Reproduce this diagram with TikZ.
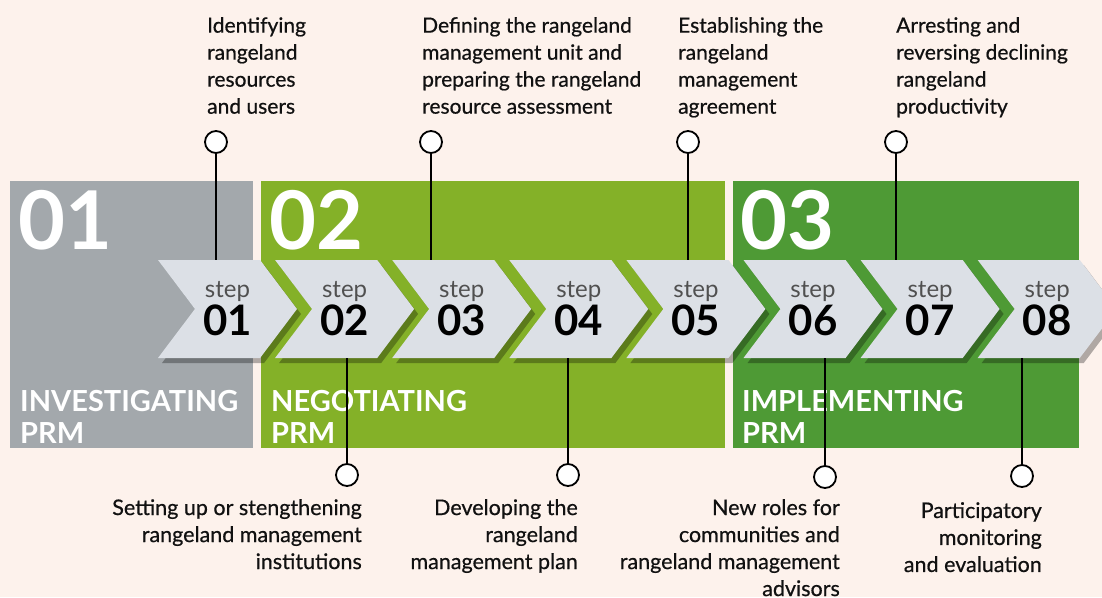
\documentclass[tikz,border=0pt]{standalone}
\usepackage{fontspec}
\setmainfont{Lato}
\newfontfamily\labelfont{Lato}[FakeBold=0.6]
\usetikzlibrary{shapes.symbols,shadows,positioning}
\definecolor{bgCream}{HTML}{FDF2EC}
\definecolor{greyPanel}{HTML}{A3A8AC}
\definecolor{greenPanel}{HTML}{84B128}
\definecolor{darkPanel}{HTML}{4E9A35}
\definecolor{chevGrey}{HTML}{DCE0E6}
\definecolor{stepGrey}{HTML}{505050}
\definecolor{labelInk}{HTML}{111111}

\begin{document}
\begin{tikzpicture}
[x=1pt,y=-1pt,
  panelDecorate/.style={shape=rectangle,inner sep=0pt,anchor=north west,minimum height=267pt},
  bigDecorate/.style={anchor=base west,inner sep=0pt,text=white,font=\fontsize{81}{81}\selectfont\bfseries},
  titleDecorate/.style={anchor=north west,inner sep=0pt,text=white,align=left,font=\fontsize{29}{32}\selectfont\bfseries},
  chevronDecorate/.style={shape=signal,signal to=east,signal from=west,signal pointer angle=106,
    fill=chevGrey,minimum width=139pt,minimum height=98pt,inner sep=0pt,align=center,
    drop shadow={shadow xshift=4pt,shadow yshift=-5pt,opacity=0.3,fill=black}},
  lineDecorate/.style={-,line width=1.2pt,draw=black},
  nodeDecorate/.style={shape=circle,inner sep=0pt,minimum size=22pt,draw,line width=1.8pt,fill=white},
  topLabel/.style={anchor=north west,inner sep=0pt,align=left,text=labelInk,font=\labelfont\fontsize{21}{27}\selectfont},
  bottomLabel/.style={anchor=north east,inner sep=0pt,align=right,text=labelInk,font=\labelfont\fontsize{21.5}{27}\selectfont}]
%% background
\fill[bgCream] (0,0) rectangle (1102,597);
\useasboundingbox (0,0) rectangle (1102,597);
%% phase panels
\node (p1) at (10,181) [panelDecorate,fill=greyPanel,minimum width=243pt] {};
\node (p2) at (261,181) [panelDecorate,fill=greenPanel,minimum width=464pt] {};
\node (p3) at (733,181) [panelDecorate,fill=darkPanel,minimum width=346pt] {};
\foreach \nodename/\x/\num/\title in {
  1/18/01/INVESTIGATING, 2/269/02/NEGOTIATING, 3/740/03/IMPLEMENTING}
{
  \node (n\nodename) at (\x,249) [bigDecorate] {\num};
  \node (t\nodename) at (\x+2,390) [titleDecorate] {\title\\PRM};
}
%% steps
\foreach \nodename/\x in {
  1/227.5, 2/344.6, 3/461.7, 4/578.8, 5/695.9, 6/813, 7/930.1, 8/1047.2}
{
  \node (s\nodename) at (\x,309) [chevronDecorate]
    {{\fontsize{24}{24}\selectfont\color{stepGrey}step}\\[2pt]{\fontsize{42}{42}\selectfont\bfseries 0\nodename}};
}
%% circles and lines
\foreach \nodename/\x/\y in {
  1/216/142, 3/431/142, 5/688/142, 7/896/142}
{
  \node (c\nodename) at (\x,\y) [nodeDecorate] {};
  \draw[lineDecorate] (c\nodename) -- (c\nodename |- s\nodename.north);
}
\foreach \nodename/\x/\y in {
  2/347/475, 4/568/475, 6/825/477, 8/1022/476}
{
  \node (c\nodename) at (\x,\y) [nodeDecorate] {};
  \draw[lineDecorate] (c\nodename) -- (c\nodename |- s\nodename.south);
}
%% labels
\node (l1) at (207,17) [topLabel] {Identifying\\rangeland\\resources\\and users};
\node (l3) at (422,17) [topLabel] {Defining the rangeland\\management unit and\\preparing the rangeland\\resource assessment};
\node (l5) at (678,17) [topLabel] {Establishing the\\rangeland\\management\\agreement};
\node (l7) at (896,17) [topLabel] {Arresting and\\reversing declining\\rangeland\\productivity};
\node (l2) at (362,499) [bottomLabel] {Setting up or stengthening\\rangeland management\\institutions};
\node (l4) at (578,499) [bottomLabel] {Developing the\\rangeland\\management plan};
\node (l6) at (840,499) [bottomLabel] {New roles for\\communities and\\rangeland management\\advisors};
\node (l8) at (1042,502) [bottomLabel] {Participatory\\monitoring\\and evaluation};
\end{tikzpicture}
\end{document}
